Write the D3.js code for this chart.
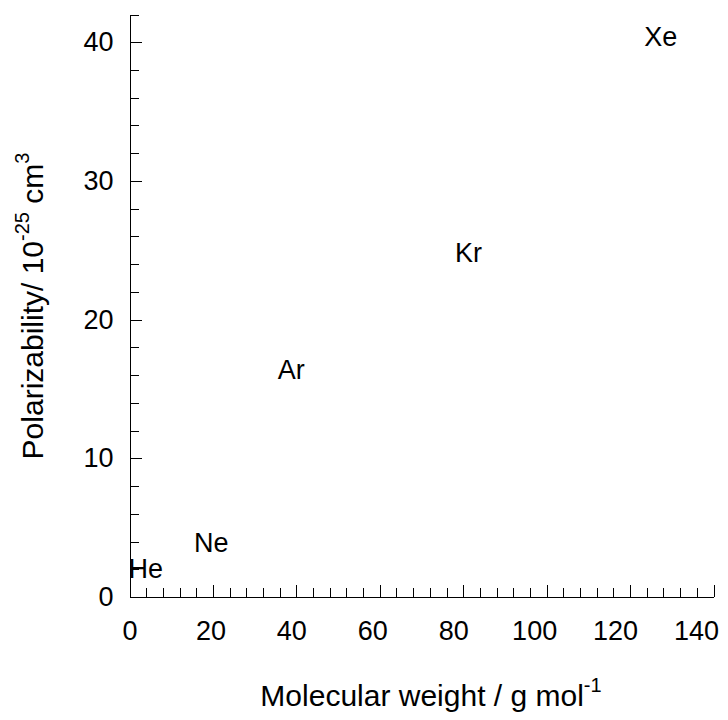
<!DOCTYPE html>
<html>
<head>
<meta charset="utf-8">
<script src="https://cdn.jsdelivr.net/npm/d3@7"></script>
<style>
  body { margin: 0; background: #fff; }
  svg { display: block; font-family: "Liberation Sans", Arial, sans-serif; }
  .axis path, .axis line { stroke: #000; shape-rendering: crispEdges; }
  .axis text { font-size: 27px; fill: #000; font-family: "Liberation Sans", Arial, sans-serif; }
</style>
</head>
<body>
<script>
// noble gases
var gases = ["He", "Ne", "Ar", "Kr", "Xe"];
var molWeight = [4.00, 20.18, 39.95, 83.80, 131.29];
var polarizability = [2.05, 3.96, 16.41, 24.84, 40.44];

var xMajor = [0, 20, 40, 60, 80, 100, 120, 140];
var yMajor = [0, 10, 20, 30, 40];

var width = 728, height = 720;

var svg = d3.select("body").append("svg")
	.attr("width", width)
	.attr("height", height);

var x = d3.scaleLinear().domain([0, 140]).range([129.5, 713.5]);
var y = d3.scaleLinear().domain([0, 42]).range([597, 14.5]);
// texts in the original sit on a slightly narrower horizontal scale than the lines
var xText = d3.scaleLinear().domain([0, 140]).range([129.5, 696]);

// minor ticks, skipping the majors
var xMinor = d3.range(0, 141, 4).filter(function(d) { return d % 20 != 0; });
var yMinor = d3.range(0, 43, 2).filter(function(d) { return d % 10 != 0; });

svg.append("g")
	.attr("class", "axis")
	.attr("transform", "translate(0," + y(0) + ")")
	.call(d3.axisBottom(x).tickValues(xMinor).tickSize(-9).tickSizeOuter(0).tickFormat(""));

svg.append("g")
	.attr("class", "axis")
	.attr("transform", "translate(0," + y(0) + ")")
	.call(d3.axisBottom(x).tickValues(xMajor).tickSize(-12).tickSizeOuter(0).tickPadding(24).tickFormat(d3.format("d")))
	.selectAll(".tick text")
	.attr("x", function(d) { return xText(d) - x(d); });

svg.append("g")
	.attr("class", "axis")
	.attr("transform", "translate(" + x(0) + ",0)")
	.call(d3.axisLeft(y).tickValues(yMinor).tickSize(-9).tickSizeOuter(0).tickFormat(""));

svg.append("g")
	.attr("class", "axis")
	.attr("transform", "translate(" + x(0) + ",0)")
	.call(d3.axisLeft(y).tickValues(yMajor).tickSize(-12).tickSizeOuter(0).tickPadding(16).tickFormat(d3.format("d")));

// point labels
svg.selectAll(".gas")
	.data(gases)
	.enter()
	.append("text")
	.attr("class", "gas")
	.attr("x", function(d, i) { return xText(molWeight[i]); })
	.attr("y", function(d, i) { return y(polarizability[i]); })
	.attr("dy", "0.36em")
	.attr("text-anchor", "middle")
	.attr("font-size", "27px")
	.text(function(d) { return d; });

// axis titles
var xt = svg.append("text")
	.attr("x", 431)
	.attr("y", 706)
	.attr("text-anchor", "middle")
	.attr("font-size", "30px");
xt.append("tspan").text("Molecular weight / g mol");
xt.append("tspan").attr("dy", -14).attr("font-size", "20px").text("-1");

var yt = svg.append("text")
	.attr("transform", "translate(43,306) rotate(-90)")
	.attr("text-anchor", "middle")
	.attr("font-size", "30px");
yt.append("tspan").text("Polarizability/ 10");
yt.append("tspan").attr("dy", -14).attr("font-size", "20px").text("-25");
yt.append("tspan").attr("dy", 14).text(" cm");
yt.append("tspan").attr("dy", -14).attr("font-size", "20px").text("3");
</script>
</body>
</html>
